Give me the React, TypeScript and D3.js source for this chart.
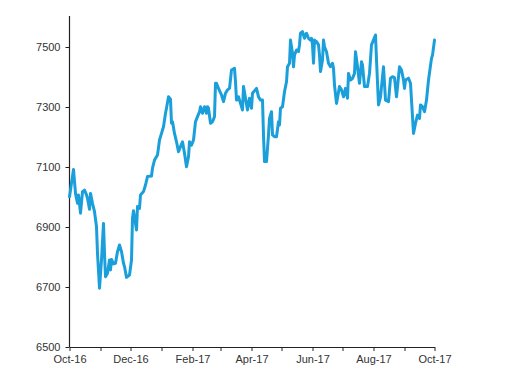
import React, { useEffect, useRef } from "react";
import * as d3 from "d3";

const dates: string[] = [
  "2016-10-01","2016-10-05","2016-10-07","2016-10-09","2016-10-10","2016-10-12","2016-10-14","2016-10-16","2016-10-18","2016-10-19",
  "2016-10-21","2016-10-22","2016-10-24","2016-10-26","2016-10-28","2016-10-29","2016-10-31","2016-11-02","2016-11-04","2016-11-05",
  "2016-11-06","2016-11-08","2016-11-10","2016-11-11","2016-11-12","2016-11-14","2016-11-16","2016-11-18","2016-11-20","2016-11-22",
  "2016-11-24","2016-11-25","2016-11-27","2016-11-30","2016-12-02","2016-12-03","2016-12-04","2016-12-06","2016-12-07","2016-12-08",
  "2016-12-10","2016-12-11","2016-12-14","2016-12-16","2016-12-18","2016-12-22","2016-12-23","2016-12-25","2016-12-28","2016-12-30",
  "2017-01-01","2017-01-03","2017-01-05","2017-01-06","2017-01-08","2017-01-10","2017-01-11","2017-01-12","2017-01-14","2017-01-16",
  "2017-01-18","2017-01-20","2017-01-22","2017-01-24","2017-01-26","2017-01-28","2017-01-29","2017-01-31","2017-02-02","2017-02-04",
  "2017-02-06","2017-02-08","2017-02-09","2017-02-11","2017-02-13","2017-02-15","2017-02-16","2017-02-17","2017-02-19","2017-02-21",
  "2017-02-23","2017-02-24","2017-02-25","2017-02-27","2017-03-02","2017-03-04","2017-03-06","2017-03-08","2017-03-10","2017-03-12",
  "2017-03-15","2017-03-16","2017-03-17","2017-03-19","2017-03-21","2017-03-23","2017-03-24","2017-03-28","2017-03-30","2017-04-01",
  "2017-04-02","2017-04-06","2017-04-08","2017-04-10","2017-04-12","2017-04-13","2017-04-14","2017-04-16","2017-04-18","2017-04-19",
  "2017-04-21","2017-04-22","2017-04-24","2017-04-26","2017-04-28","2017-04-29","2017-04-30","2017-05-02","2017-05-04","2017-05-06",
  "2017-05-07","2017-05-09","2017-05-10","2017-05-12","2017-05-13","2017-05-14","2017-05-16","2017-05-18","2017-05-19","2017-05-20",
  "2017-05-22","2017-05-24","2017-05-25","2017-05-26","2017-05-28","2017-05-30","2017-05-31","2017-06-01","2017-06-02","2017-06-03",
  "2017-06-05","2017-06-07","2017-06-08","2017-06-09","2017-06-11","2017-06-12","2017-06-13","2017-06-15","2017-06-17","2017-06-19",
  "2017-06-21","2017-06-22","2017-06-23","2017-06-25","2017-06-28","2017-06-30","2017-07-02","2017-07-04","2017-07-06","2017-07-07",
  "2017-07-09","2017-07-11","2017-07-13","2017-07-14","2017-07-16","2017-07-18","2017-07-20","2017-07-21","2017-07-23","2017-07-26",
  "2017-07-28","2017-07-30","2017-08-03","2017-08-04","2017-08-06","2017-08-08","2017-08-11","2017-08-13","2017-08-16","2017-08-18",
  "2017-08-20","2017-08-22","2017-08-24","2017-08-27","2017-08-29","2017-08-31","2017-09-01","2017-09-02","2017-09-05","2017-09-07",
  "2017-09-10","2017-09-12","2017-09-14","2017-09-16","2017-09-17","2017-09-19","2017-09-21","2017-09-23","2017-09-25","2017-09-28",
  "2017-09-29","2017-10-01"
];

const values: number[] = [
  7001,7092,7012,6979,7007,6946,7018,7023,7007,6996,
  6959,7012,6979,6951,6901,6812,6696,6790,6912,6812,
  6734,6746,6790,6757,6792,6777,6779,6818,6840,6818,
  6779,6768,6732,6740,6790,6929,6954,6912,6890,6968,
  6962,7007,7018,7040,7068,7070,7096,7123,7140,7190,
  7212,7234,7279,7296,7334,7326,7246,7251,7212,7184,
  7151,7168,7184,7146,7101,7134,7184,7173,7190,7251,
  7268,7284,7301,7279,7301,7279,7301,7296,7246,7251,
  7268,7379,7379,7362,7340,7318,7346,7357,7362,7423,
  7429,7384,7323,7334,7312,7290,7368,7290,7329,7296,
  7346,7362,7334,7323,7323,7207,7118,7118,7207,7262,
  7284,7207,7201,7201,7251,7240,7296,7301,7351,7384,
  7434,7446,7523,7479,7434,7473,7490,7485,7507,7546,
  7551,7529,7540,7546,7529,7523,7529,7507,7446,7523,
  7518,7507,7473,7418,7457,7523,7501,7484,7446,7434,
  7446,7429,7373,7312,7368,7357,7334,7362,7329,7412,
  7390,7395,7412,7484,7434,7379,7451,7440,7368,7368,
  7412,7507,7540,7457,7307,7334,7434,7323,7318,7396,
  7401,7398,7334,7434,7423,7390,7362,7390,7396,7379,
  7212,7246,7273,7262,7307,7301,7284,7323,7390,7462,
  7473,7523
];

const yTicks: number[] = [6500, 6700, 6900, 7100, 7300, 7500];
const xStart = "2016-10-01";
const xEnd = "2017-10-01";

export default function App() {
  const ref = useRef<SVGSVGElement>(null);

  useEffect(() => {
    const svg = d3.select(ref.current);
    svg.selectAll("*").remove();
    const parse = d3.timeParse("%Y-%m-%d");
    const data = dates.map((d, i) => ({ date: parse(d) as Date, value: values[i] }));

    const left = 69.5, right = 434.5, top = 16, bottom = 347;
    const x = d3.scaleTime().domain([parse(xStart) as Date, parse(xEnd) as Date]).range([left, right]);
    const y = d3.scaleLinear().domain([6500, 7600]).range([bottom, bottom - 330]);

    const fmt = d3.timeFormat("%b-%y");
    const months = d3.timeMonth.range(parse(xStart) as Date, d3.timeDay.offset(parse(xEnd) as Date, 1));

    const xAxis = d3.axisBottom(x)
      .tickValues(months)
      .tickSize(4)
      .tickSizeOuter(0)
      .tickFormat((d: any) => (d.getMonth() % 2 === 1 ? fmt(d) : "") as any);

    const gx = svg.append("g").attr("transform", `translate(0,${bottom})`).call(xAxis as any);
    gx.selectAll("text").attr("dy", "0.71em").attr("y", 8);

    const yAxis = d3.axisLeft(y).tickValues(yTicks).tickSize(4).tickSizeOuter(0).tickFormat(d3.format("d") as any);
    const gy = svg.append("g").attr("transform", `translate(${left},0)`).call(yAxis as any);
    gy.selectAll("text").attr("x", -9);
    gy.select(".domain").attr("d", `M0,${bottom}V${top}`);

    svg.selectAll(".domain").attr("stroke", "#222").attr("stroke-width", 1.2);
    svg.selectAll(".tick line").attr("stroke", "#222");
    svg.selectAll(".tick text")
      .attr("fill", "#333")
      .attr("font-family", "'Liberation Sans', Arial, sans-serif")
      .attr("font-size", 11);

    const line = d3.line<{ date: Date; value: number }>()
      .x(d => x(d.date))
      .y(d => y(d.value));

    svg.append("path")
      .datum(data)
      .attr("d", line)
      .attr("fill", "none")
      .attr("stroke", "#1a9fdb")
      .attr("stroke-width", 3)
      .attr("stroke-linejoin", "round")
      .attr("stroke-linecap", "round");
  }, []);

  return (
    <svg
      ref={ref}
      width={512}
      height={384}
      style={{ position: "absolute", left: 0, top: 0, background: "#fff", display: "block" }}
    />
  );
}
